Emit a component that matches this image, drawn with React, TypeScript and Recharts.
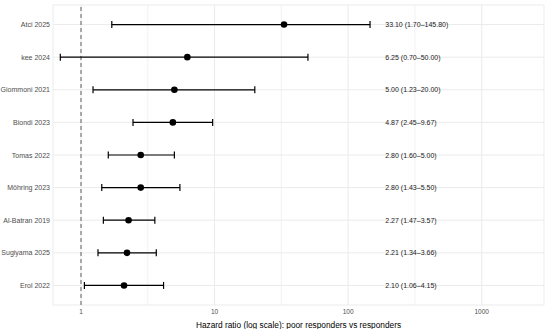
import React from 'react';
import {
  ScatterChart,
  Scatter,
  XAxis,
  YAxis,
  CartesianGrid,
  ReferenceLine,
  ErrorBar,
} from 'recharts';

// studies listed top to bottom
const studies = [
  'Atci 2025',
  'kee 2024',
  'Giommoni 2021',
  'Biondi 2023',
  'Tomas 2022',
  'Möhring 2023',
  'Al-Batran 2019',
  'Sugiyama 2025',
  'Erol 2022',
];
const hazardRatio = [33.1, 6.25, 5.0, 4.87, 2.8, 2.8, 2.27, 2.21, 2.1];
const ciLower = [1.7, 0.7, 1.23, 2.45, 1.6, 1.43, 1.47, 1.34, 1.06];
const ciUpper = [145.8, 50.0, 20.0, 9.67, 5.0, 5.5, 3.57, 3.66, 4.15];

const xTicks = [1, 10, 100, 1000];
const minorGrid = [3.1623, 31.623, 316.23];
const labelX = 189.5; // text column position (data units)

const n = studies.length;
const rows = studies.map((name, i) => ({
  name,
  row: n - i,
  x: hazardRatio[i],
  err: [hazardRatio[i] - ciLower[i], ciUpper[i] - hazardRatio[i]],
}));
const labelRows = studies.map((name, i) => ({
  row: n - i,
  x: labelX,
  text: `${hazardRatio[i].toFixed(2)} (${ciLower[i].toFixed(2)}–${ciUpper[i].toFixed(2)})`,
}));
const rowTicks = rows.map((r) => r.row);
const nameByRow: Record<number, string> = {};
rows.forEach((r) => (nameByRow[r.row] = r.name));

const font = '"Liberation Sans", Arial, sans-serif';

const Dot = (props: any) => (
  <circle cx={props.cx} cy={props.cy} r={3.3} fill="#000" />
);

const LabelText = (props: any) => (
  <text
    x={props.cx}
    y={props.cy}
    dominantBaseline="central"
    fontSize={7}
    fontFamily={font}
    fill="#1a1a1a"
  >
    {props.payload.text}
  </text>
);

const StudyTick = (props: any) => (
  <text
    x={props.x}
    y={props.y}
    textAnchor="end"
    dominantBaseline="central"
    fontSize={7}
    fontFamily={font}
    fill="#4d4d4d"
  >
    {nameByRow[props.payload.value] ?? ''}
  </text>
);

const App: React.FC = () => {
  return (
    <div style={{ position: 'fixed', left: 0, top: 0, background: '#fff' }}>
      <ScatterChart
        width={550}
        height={329}
        margin={{ top: 5, right: 6, left: 0, bottom: 0 }}
      >
        <CartesianGrid stroke="#ebebeb" strokeWidth={1} />
        {minorGrid.map((v) => (
          <ReferenceLine key={v} x={v} stroke="#ebebeb" strokeWidth={0.7} />
        ))}
        <XAxis
          type="number"
          dataKey="x"
          scale="log"
          domain={[0.617, 2925]}
          allowDataOverflow
          ticks={xTicks}
          tickFormatter={(v) => String(v)}
          tickLine={false}
          axisLine={false}
          tickSize={0}
          tickMargin={4}
          height={24}
          tick={{ fontSize: 6.5, fill: '#4d4d4d', fontFamily: font }}
          label={{
            value: 'Hazard ratio (log scale): poor responders vs responders',
            position: 'insideBottom',
            offset: 1,
            style: { fontSize: 8.3, fill: '#000', fontFamily: font },
          }}
        />
        <YAxis
          type="number"
          dataKey="row"
          domain={[0.4, n + 0.6]}
          ticks={rowTicks}
          interval={0}
          tickLine={false}
          axisLine={false}
          tickSize={0}
          tickMargin={3}
          width={53}
          tick={<StudyTick />}
        />
        <ReferenceLine
          x={1}
          stroke="#808080"
          strokeWidth={1.3}
          strokeDasharray="4 3"
        />
        <Scatter data={rows} shape={<Dot />} isAnimationActive={false}>
          <ErrorBar
            dataKey="err"
            direction="x"
            width={3.5}
            stroke="#000"
            strokeWidth={1.2}
            isAnimationActive={false}
          />
        </Scatter>
        <Scatter data={labelRows} shape={<LabelText />} isAnimationActive={false} />
      </ScatterChart>
    </div>
  );
};

export default App;
